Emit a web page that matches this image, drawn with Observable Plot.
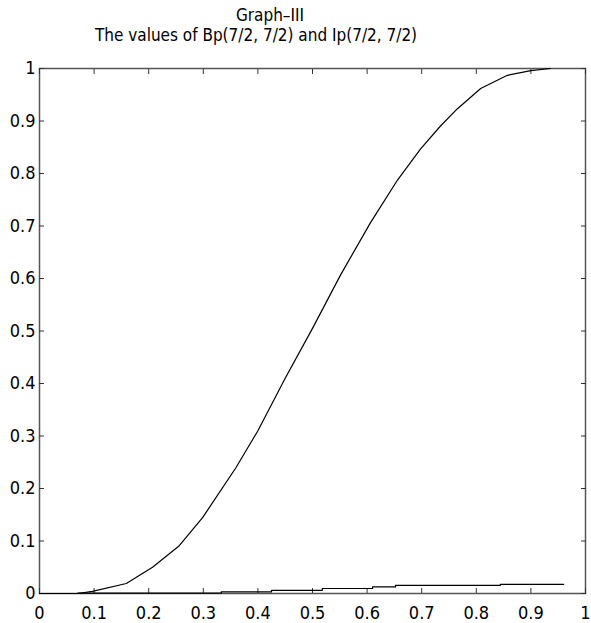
<!DOCTYPE html>
<html>
<head>
<meta charset="utf-8">
<script src="https://cdn.jsdelivr.net/npm/d3@7"></script>
<script src="https://cdn.jsdelivr.net/npm/@observablehq/plot@0.6"></script>
<style>
  html, body { margin: 0; padding: 0; background: #fff; }
  body { width: 591px; height: 623px; overflow: hidden; font-family: "Liberation Sans Narrow", "DejaVu Sans Condensed", "DejaVu Sans", sans-serif; font-stretch: condensed; }
  #head { position: relative; height: 48px; color: #000; }
  #head div { position: absolute; white-space: nowrap; font-size: 17px; line-height: 20px; transform: translateX(-50%); font-stretch: condensed; }
  #t1 { left: 270px; top: 5px; }
  #t2 { left: 256px; top: 25px; }
  svg text { font-stretch: condensed; }
</style>
</head>
<body>
<div id="head"><div id="t1">Graph–III</div><div id="t2">The values of Bp(7/2, 7/2) and Ip(7/2, 7/2)</div></div>
<div id="chart"></div>
<script>
// Ip(7/2, 7/2) curve
const ipX = [0, 0.07, 0.097, 0.159, 0.207, 0.256, 0.299, 0.36, 0.40, 0.45, 0.50, 0.551, 0.606, 0.656, 0.698, 0.734, 0.765, 0.808, 0.857, 0.90, 0.936];
const ipY = [0, 0, 0.004, 0.019, 0.05, 0.091, 0.145, 0.24, 0.31, 0.41, 0.505, 0.606, 0.706, 0.788, 0.847, 0.89, 0.923, 0.962, 0.987, 0.996, 1.0];
// Bp(7/2, 7/2) curve (staircase as drawn)
const bpX = [0, 0.07, 0.333, 0.425, 0.518, 0.61, 0.652, 0.844, 0.96];
const bpY = [0, 0.0006, 0.003, 0.006, 0.0095, 0.0125, 0.0155, 0.0175, 0.0175];
// tick values
const xTicks = [0, 0.1, 0.2, 0.3, 0.4, 0.5, 0.6, 0.7, 0.8, 0.9, 1];
const yTicks = [0, 0.1, 0.2, 0.3, 0.4, 0.5, 0.6, 0.7, 0.8, 0.9, 1];

const ip = ipX.map((x, i) => ({x, y: ipY[i]}));
const bp = bpX.map((x, i) => ({x, y: bpY[i]}));
const fmt = d => String(+d.toFixed(1));
const none = () => "";

const chart = Plot.plot({
  width: 591,
  height: 575,
  marginLeft: 39,
  marginRight: 6,
  marginTop: 20,
  marginBottom: 30,
  style: {fontFamily: '"Liberation Sans Narrow", "DejaVu Sans Condensed", "DejaVu Sans", sans-serif', fontSize: "18px", color: "#000", background: "#fff"},
  x: {domain: [0, 1]},
  y: {domain: [0, 1]},
  marks: [
    Plot.frame({stroke: "#555", strokeWidth: 1.5}),
    Plot.axisX({anchor: "bottom", ticks: xTicks, tickSize: -5, tickPadding: 17.5, tickFormat: fmt, label: null, stroke: "#333", fill: "#000"}),
    Plot.axisX({anchor: "top", ticks: xTicks, tickSize: -5, tickFormat: none, label: null, stroke: "#333"}),
    Plot.axisY({anchor: "left", ticks: yTicks, tickSize: -5, tickPadding: 9, tickFormat: fmt, label: null, stroke: "#333", fill: "#000"}),
    Plot.axisY({anchor: "right", ticks: yTicks, tickSize: -5, tickFormat: none, label: null, stroke: "#333"}),
    Plot.line(bp, {x: "x", y: "y", curve: "step-after", stroke: "#000", strokeWidth: 1.2}),
    Plot.line(ip, {x: "x", y: "y", stroke: "#000", strokeWidth: 1.2})
  ]
});
document.getElementById("chart").appendChild(chart);
</script>
</body>
</html>
